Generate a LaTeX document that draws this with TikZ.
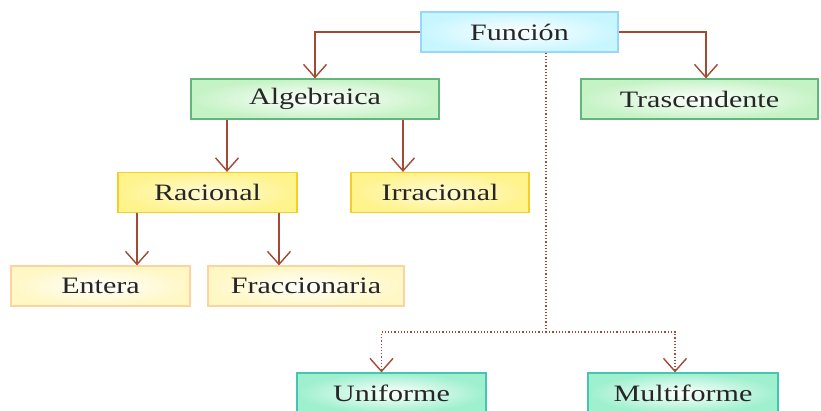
\documentclass[tikz,border=0pt]{standalone}
\usepackage{fontspec}
\setmainfont[FakeStretch=1.28]{Liberation Serif}
\definecolor{fnborder}{HTML}{99D6FF}
\definecolor{fnfill}{HTML}{C8F6FF}
\definecolor{grborder}{HTML}{62B67C}
\definecolor{grfill}{HTML}{C6F3C6}
\definecolor{yeborder}{HTML}{F4CE2A}
\definecolor{yefill}{HTML}{FFF38C}
\definecolor{ltborder}{HTML}{FFD3A0}
\definecolor{ltfill}{HTML}{FFF7C4}
\definecolor{mnborder}{HTML}{45C6B2}
\definecolor{mnfill}{HTML}{9EF0CE}
\definecolor{arrbrown}{HTML}{A24A32}
\usetikzlibrary{arrows.meta}
\tikzset{
	fbox/.style={rectangle, minimum height=40pt, inner sep=0pt, line width=1.2pt,
		font=\fontsize{23.5}{27}\selectfont, text=black!85},
	cyanbox/.style={fbox, draw=fnborder, shading=radial, inner color=white, outer color=fnfill},
	greenbox/.style={fbox, draw=grborder, shading=radial, inner color=white, outer color=grfill},
	yellowbox/.style={fbox, draw=yeborder, shading=radial, inner color=yefill!35, outer color=yefill},
	paleybox/.style={fbox, draw=ltborder, shading=radial, inner color=white, outer color=ltfill},
	mintbox/.style={fbox, draw=mnborder, shading=radial, inner color=white, outer color=mnfill},
	barr/.style={-{Straight Barb[length=13pt,width=23pt,line width=1.4pt]}, line width=1.6pt, draw=arrbrown},
	darr/.style={barr, line width=1.2pt, dotted}
}

\begin{document}
\begin{tikzpicture}[x=1pt, y=1pt]
	\useasboundingbox (0,0) rectangle (821,-410);
	\clip (0,0) rectangle (821,-410);
	% nodes
	\node[cyanbox, minimum width=197pt] (fun) at (519.5,-32) {Función};
	\node[greenbox, minimum width=248pt] (alg) at (315,-99) {Algebraica};
	\node[greenbox, minimum width=237pt] (tra) at (699.5,-99) {Trascendente};
	\node[yellowbox, minimum width=179pt] (rac) at (207.5,-192.5) {Racional};
	\node[yellowbox, minimum width=178pt] (irr) at (440,-192.5) {Irracional};
	\node[paleybox, minimum width=179pt] (ent) at (100.5,-286) {Entera};
	\node[paleybox, minimum width=196pt] (fra) at (306,-286) {Fraccionaria};
	\node[mintbox, minimum width=189pt] (uni) at (391.5,-393) {Uniforme};
	\node[mintbox, minimum width=190pt] (mul) at (683,-393) {Multiforme};
	% connectors
	\draw[barr] (fun.west) -| (alg.north);
	\draw[barr] (fun.east) -| ([xshift=6.5pt]tra.north);
	\draw[barr] ([xshift=-88pt]alg.south) -- ([xshift=-88pt]alg.south |- rac.north);
	\draw[barr] ([xshift=88pt]alg.south) -- ([xshift=88pt]alg.south |- irr.north);
	\draw[barr] ([xshift=-70.5pt]rac.south) -- ([xshift=-70.5pt]rac.south |- ent.north);
	\draw[barr] ([xshift=71.5pt]rac.south) -- ([xshift=71.5pt]rac.south |- fra.north);
	\coordinate (split) at ([xshift=26.5pt]fun.south |- 0,-332);
	\draw[darr, -] ([xshift=26.5pt]fun.south) -- (split);
	\draw[darr] (split) -| ([xshift=-10pt]uni.north);
	\draw[darr] (split) -| ([xshift=-8pt]mul.north);
\end{tikzpicture}
\end{document}
